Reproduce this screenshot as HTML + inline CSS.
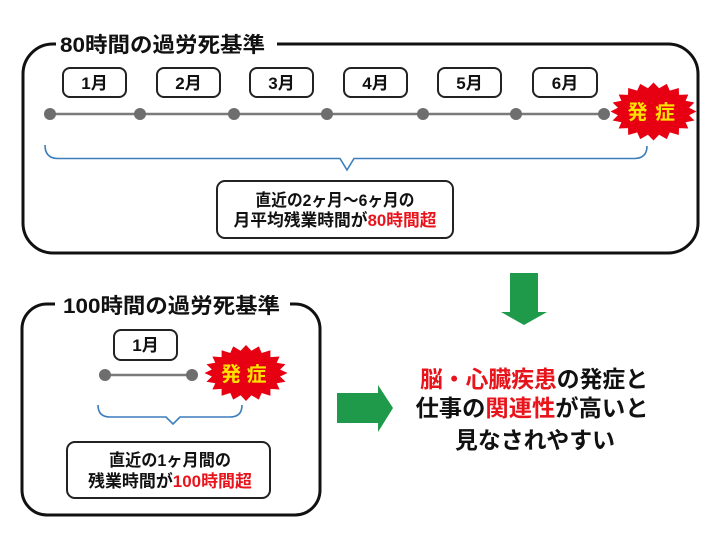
<!DOCTYPE html>
<html><head><meta charset="utf-8"><style>
html,body{margin:0;padding:0;background:#fff;}
svg{display:block;}
text{font-family:"Liberation Sans","Noto Sans CJK JP",sans-serif;font-weight:bold;}
</style></head><body>
<svg width="720" height="549" viewBox="0 0 720 549" xmlns="http://www.w3.org/2000/svg">
<rect width="720" height="549" fill="#fff"/>
<!-- Top frame -->
<path d="M277 44 H668 A30 30 0 0 1 698 74 V223 A30 30 0 0 1 668 253 H53 A30 30 0 0 1 23 223 V74 A30 30 0 0 1 53 44 H56" fill="none" stroke="#111" stroke-width="3"/>
<text x="60" y="52" font-size="21" fill="#111" textLength="205" lengthAdjust="spacingAndGlyphs">80時間の過労死基準</text>

<!-- month boxes top -->
<g fill="#fff" stroke="#222" stroke-width="2">
<rect x="63" y="68" width="63" height="29" rx="7"/>
<rect x="157" y="68" width="63" height="29" rx="7"/>
<rect x="250" y="68" width="63" height="29" rx="7"/>
<rect x="344" y="68" width="63" height="29" rx="7"/>
<rect x="438" y="68" width="63" height="29" rx="7"/>
<rect x="533" y="68" width="64" height="29" rx="7"/>
</g>
<g font-size="17" fill="#111" text-anchor="middle">
<text x="94.5" y="89">1月</text>
<text x="188.5" y="89">2月</text>
<text x="281.5" y="89">3月</text>
<text x="375.5" y="89">4月</text>
<text x="469.5" y="89">5月</text>
<text x="565" y="89">6月</text>
</g>

<!-- timeline top -->
<line x1="50" y1="114" x2="604" y2="114" stroke="#7a7a7a" stroke-width="2.5"/>
<g fill="#6e6e6e">
<circle cx="50" cy="114" r="6"/><circle cx="140" cy="114" r="6"/><circle cx="234" cy="114" r="6"/>
<circle cx="327" cy="114" r="6"/><circle cx="423" cy="114" r="6"/><circle cx="516" cy="114" r="6"/>
<circle cx="604" cy="114" r="6"/>
</g>

<!-- burst top -->
<polygon id="b1" fill="#e60012" points=""/>
<text x="637.5" y="119" font-size="20" fill="#ffe100" text-anchor="middle">発</text>
<text x="665" y="119" font-size="20" fill="#ffe100" text-anchor="middle">症</text>

<!-- brace top -->
<path d="M45 145 Q45 158.5 58 158.5 H340 L347 170 L354 158.5 H634 Q647 158.5 647 146" fill="none" stroke="#3c7dbc" stroke-width="1.6"/>

<!-- text box top -->
<rect x="217" y="181" width="236" height="57" rx="8" fill="#fff" stroke="#222" stroke-width="2"/>
<text x="335" y="206" font-size="17" fill="#111" text-anchor="middle" textLength="159" lengthAdjust="spacingAndGlyphs">直近の2ヶ月〜6ヶ月の</text>
<text x="335" y="226" font-size="17" fill="#111" text-anchor="middle" textLength="203" lengthAdjust="spacingAndGlyphs">月平均残業時間が<tspan fill="#e8141c">80時間超</tspan></text>

<!-- Bottom frame -->
<path d="M290 304 H295 A25 25 0 0 1 320 329 V490 A25 25 0 0 1 295 515 H47 A25 25 0 0 1 22 490 V329 A25 25 0 0 1 47 304 H55" fill="none" stroke="#111" stroke-width="3"/>
<text x="63" y="313" font-size="21" fill="#111" textLength="217" lengthAdjust="spacingAndGlyphs">100時間の過労死基準</text>

<rect x="114" y="330" width="63" height="30" rx="7" fill="#fff" stroke="#222" stroke-width="2"/>
<text x="145.5" y="351" font-size="17" fill="#111" text-anchor="middle">1月</text>

<line x1="105" y1="375" x2="192" y2="375" stroke="#7a7a7a" stroke-width="2.5"/>
<circle cx="105" cy="375" r="6" fill="#6e6e6e"/><circle cx="192" cy="375" r="6" fill="#6e6e6e"/>

<polygon id="b2" fill="#e60012" points=""/>
<text x="231" y="381" font-size="20" fill="#ffe100" text-anchor="middle">発</text>
<text x="256.5" y="381" font-size="20" fill="#ffe100" text-anchor="middle">症</text>

<path d="M98 405 Q98 417 110 417 H166 L173 424 L180 417 H230 Q242 417 242 405" fill="none" stroke="#3c7dbc" stroke-width="1.6"/>

<rect x="67" y="442" width="203" height="56" rx="8" fill="#fff" stroke="#222" stroke-width="2"/>
<text x="170" y="466" font-size="17" fill="#111" text-anchor="middle" textLength="122" lengthAdjust="spacingAndGlyphs">直近の1ヶ月間の</text>
<text x="170" y="487" font-size="17" fill="#111" text-anchor="middle" textLength="164" lengthAdjust="spacingAndGlyphs">残業時間が<tspan fill="#e8141c">100時間超</tspan></text>

<!-- Arrows -->
<polygon fill="#1f9a4b" points="510,273 538,273 538,312 547,312 524,325 501,312 510,312"/>
<polygon fill="#1f9a4b" points="337,393 378,393 378,385 393,408 378,432 378,423 337,423"/>

<!-- Main text -->
<text x="534" y="387" font-size="23" fill="#111" text-anchor="middle" textLength="228" lengthAdjust="spacingAndGlyphs"><tspan fill="#e8141c">脳・心臓疾患</tspan>の発症と</text>
<text x="532" y="416" font-size="23" fill="#111" text-anchor="middle" textLength="233" lengthAdjust="spacingAndGlyphs">仕事の<tspan fill="#e8141c">関連性</tspan>が高いと</text>
<text x="535" y="448" font-size="23" fill="#111" text-anchor="middle" textLength="160" lengthAdjust="spacingAndGlyphs">見なされやすい</text>
</svg>
<script>
function burst(id,cx,cy,rxo,ryo,rxi,ryi,n){
  var pts=[];
  for(var i=0;i<2*n;i++){
    var a=Math.PI*i/n - Math.PI/2;
    var o=(i%2===0);
    var rx=o?rxo:rxi, ry=o?ryo:ryi;
    pts.push((cx+rx*Math.cos(a)).toFixed(1)+","+(cy+ry*Math.sin(a)).toFixed(1));
  }
  document.getElementById(id).setAttribute("points",pts.join(" "));
}
burst("b1",653.5,111.5,43,29,36,23.5,20);
burst("b2",246,373,41.5,28,34.5,22.5,20);
</script>
</body></html>
